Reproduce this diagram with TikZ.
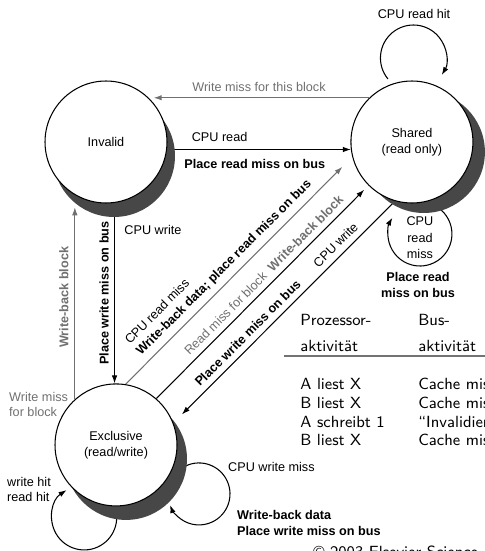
\documentclass[tikz,border=0pt]{standalone}
\usepackage{fontspec}
\setmainfont{Liberation Sans}
\usetikzlibrary{arrows.meta,positioning,shadows}
\pgfdeclarelayer{bg}
\pgfsetlayers{bg,main}
\definecolor{busgray}{HTML}{707070}
\definecolor{shadowgray}{HTML}{474747}

\begin{document}
\begin{tikzpicture}[x=0.02cm,y=-0.02cm,node distance=6.12cm,>={Latex[length=1.6mm,width=1.1mm]},
  every node/.style={font=\fontsize{7.2}{9}\selectfont},
  state/.style={circle,draw,line width=0.6pt,fill=white,minimum size=2.44cm,inner sep=0pt,align=center},
  shade/.style 2 args={drop shadow={shadow xshift=#1,shadow yshift=#2,fill=shadowgray,opacity=1}},
  cpu/.style={draw=black,line width=0.6pt},
  bus/.style={draw=busgray,line width=0.6pt},
  buslbl/.style={text=busgray},
  boldlbl/.style={font=\fontsize{7.2}{9}\selectfont\bfseries},
  tab/.style={font=\fontsize{9.2}{11}\selectfont\sffamily,inner sep=0pt,anchor=base west}]
\useasboundingbox (0,0) rectangle (484,551);

\node[state,shade={0.16cm}{-0.28cm}] (inv) at (106,142) {Invalid};
\node[state,shade={0.24cm}{-0.2cm},right of=inv] (shr) {Shared\\(read only)};
\node[state,shade={0.2cm}{-0.28cm},node distance=6.06cm,below of=inv,xshift=0.2cm] (exc) {Exclusive\\(read/write)};

\coordinate (hitc) at ([shift={(1.5,-84)}]shr.center);
\coordinate (rmissc) at ([shift={(8,92)}]shr.center);
\coordinate (hitx) at ([shift={(-31.8,72.5)}]exc.center);
\coordinate (wmissc) at ([shift={(83,49)}]exc.center);

\begin{pgfonlayer}{bg}
\draw[bus,->,shorten >=0.1cm] (shr.134) -- (inv.46 |- shr.134)
  node[midway,above,buslbl] (wmtb) {Write miss for this block};
\draw[cpu,->] (inv.-7.5) -- (shr.187.5)
  node[pos=0.1,anchor=south west,yshift=1pt] (cr) {CPU read}
  node[pos=0.06,anchor=north west,boldlbl,yshift=-2pt] (prm) {Place read miss on bus};
\draw[cpu,->] (inv.-82.5) -- (inv.-82.5 |- exc.92)
  node[pos=0.15,anchor=west,xshift=2pt] (cw) {CPU write}
  node[midway,rotate=90,anchor=south,boldlbl,inner ysep=3pt] (pwm) {Place write miss on bus};
\draw[bus,->,shorten >=0.24cm] (exc.132) -- (exc.132 |- inv.-120.3)
  node[midway,rotate=90,anchor=south,boldlbl,buslbl] (wbb) {Write-back block};
\draw[bus,->,shorten >=0.28cm] (exc.81.5) -- (shr.194.3)
  node[pos=0.077,sloped,anchor=south west,align=left] (crm) {CPU read miss\\\textbf{Write-back data; place read miss on bus}};
\draw[cpu,->,shorten >=0.12cm] (exc.49.5) -- (shr.225)
  node[pos=0.157,sloped,anchor=south west,buslbl] (rmb) {Read miss for block\hspace{4pt}\textbf{Write-back block}};
\draw[cpu,->,shorten >=0.24cm] (shr.254.1) -- (exc.21)
  node[pos=0.233,sloped,above] (cw2) {CPU write}
  node[pos=0.63,sloped,above,boldlbl] (pwm2) {Place write miss on bus};

\draw[cpu,->] (hitc) ++(140.6:33) arc[start angle=140.6,end angle=391,radius=33];
\draw[cpu,->] (rmissc) ++(285:32) arc[start angle=285,end angle=570.5,radius=32];
\draw[cpu,->] (hitx) ++(330:32.5) arc[start angle=330,end angle=597.3,radius=32.5];
\draw[cpu,->] (wmissc) ++(245:31) arc[start angle=245,end angle=519,radius=31];
\end{pgfonlayer}

\node (rhit) at (414,14) {CPU read hit};
\node[align=center,font=\fontsize{7.2}{9.4}\selectfont] (rmt) at ([shift={(0,4)}]rmissc) {CPU\\read\\miss};
\node[boldlbl,align=center] (prmb) at (418,285) {Place read\\miss on bus};
\node[buslbl,align=left,anchor=west] (wmfb) at (3,404.5) {Write miss\\for block};
\node[align=left,anchor=west] (wrhit) at (1,489.5) {write hit\\read hit};
\node[anchor=west] (cwm) at (222,467) {CPU write miss};
\node[boldlbl,align=left,anchor=west] (wbd) at (231,523) {Write-back data\\Place write miss on bus};

\node[tab] (pa) at (300,325) {Prozessor-};
\node[tab] (pb) at (300,351) {aktivität};
\node[tab] (ba) at (418,325) {Bus-};
\node[tab] (bb) at (418,351) {aktivität};
\draw[black!55,line width=0.8pt] (284,356) -- (490,356);
\foreach \y/\p/\b [count=\i] in {389/A liest X/Cache miss, 408/B liest X/Cache miss,
    427/A schreibt 1/“Invalidierung”, 445/B liest X/Cache miss} {
  \node[tab] (p\i) at (300,\y) {\p};
  \node[tab] (b\i) at (418,\y) {\b};
}
\node[tab] (cpr) at (313,557) {© 2003 Elsevier Science};
\end{tikzpicture}
\end{document}
